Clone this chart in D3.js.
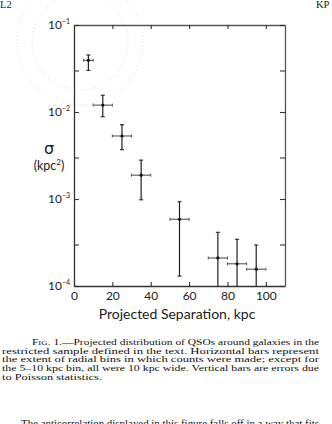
<!DOCTYPE html>
<html><head><meta charset="utf-8">
<script src="https://cdn.jsdelivr.net/npm/d3@7"></script>
<style>
html,body{margin:0;padding:0;background:#fff;}
svg{display:block;}
</style></head>
<body>
<svg id="c" width="332" height="424"></svg>
<script>
// ---- data ----
const binLo = [5, 10, 20, 30, 50, 70, 80, 90];
const binHi = [10, 20, 30, 40, 60, 80, 90, 100];
const sigmaVal = [0.0393, 0.0120, 0.0053, 0.00188, 0.000585, 0.00021, 0.00018, 0.000156];
const errHigh = [0.0452, 0.0156, 0.00715, 0.0028, 0.00093, 0.000414, 0.000344, 0.000296];
const errLow  = [0.0301, 0.00883, 0.00369, 0.00098, 0.00013, 0.0001, 0.0001, 0.0001];
const xTicks = [0, 20, 40, 60, 80, 100];
const yMajor = [1e-1, 1e-2, 1e-3, 1e-4];
const yMajorExp = ["\u22121", "\u22122", "\u22123", "\u22124"];
const yMinor = [3e-2, 3e-3, 3e-4];
const xTitle = "Projected Separation, kpc";
const captionLines = [
  "Projected distribution of QSOs around galaxies in the",
  "restricted sample defined in the text. Horizontal bars represent",
  "the extent of radial bins in which counts were made; except for",
  "the 5\u201310 kpc bin, all were 10 kpc wide. Vertical bars are errors due",
  "to Poisson statistics."
];

const svg = d3.select("#c");

// faint library stamp (scan artefact)
const stamp = svg.append("g").attr("fill", "none").attr("stroke", "#b9b9cc")
  .attr("stroke-width", 1).attr("stroke-dasharray", "1,2.5").attr("opacity", 0.5);
stamp.append("circle").attr("cx", 80).attr("cy", 42).attr("r", 48);
stamp.append("circle").attr("cx", 80).attr("cy", 42).attr("r", 63);

// page header
svg.append("text").attr("x", 0).attr("y", 8).attr("font-family", "Liberation Serif")
  .attr("font-size", 10.5).attr("fill", "#222").text("L2");
svg.append("text").attr("x", 316).attr("y", 8).attr("font-family", "Liberation Serif")
  .attr("font-size", 10.5).attr("fill", "#222").text("KP");

// ---- scales ----
const x = d3.scaleLinear().domain([0, 110]).range([74, 285]);
const y = d3.scaleLog().domain([1e-4, 1e-1]).range([286, 25]).clamp(true);

const axisColor = "#333";
const tickFont = "Lato";

// axes
const gB = svg.append("g").attr("transform", `translate(0,${y.range()[0]})`)
  .call(d3.axisBottom(x).tickValues(xTicks).tickSizeInner(-4).tickSizeOuter(0).tickPadding(5.5));
const gT = svg.append("g").attr("transform", `translate(0,${y.range()[1]})`)
  .call(d3.axisTop(x).tickValues(xTicks.slice(1)).tickSizeInner(-4).tickSizeOuter(0).tickFormat(""));
const yTickVals = yMajor.concat(yMinor);
const gL = svg.append("g").attr("transform", `translate(${x.range()[0]},0)`)
  .call(d3.axisLeft(y).tickValues(yTickVals).tickSizeInner(-5).tickSizeOuter(0).tickFormat(""));
const gR = svg.append("g").attr("transform", `translate(${x.range()[1]},0)`)
  .call(d3.axisRight(y).tickValues(yTickVals).tickSizeInner(-5).tickSizeOuter(0).tickFormat(""));

[gB, gT, gL, gR].forEach(g => {
  g.selectAll("path.domain").attr("stroke", axisColor).attr("stroke-width", 1.3);
  g.selectAll(".tick line").attr("stroke", axisColor).attr("stroke-width", 1.1);
});
gT.selectAll("path.domain").attr("stroke", "#555");
gR.selectAll("path.domain").attr("stroke", "#555");
gB.selectAll(".tick text").attr("font-family", tickFont).attr("font-size", 12)
  .attr("fill", "#222");

// y tick labels with exponents
const yl = svg.append("g").attr("font-family", tickFont).attr("fill", "#222");
yMajor.forEach((v, i) => {
  const t = yl.append("text").attr("x", 70).attr("y", y(v)).attr("dy", "0.35em")
    .attr("text-anchor", "end").attr("font-size", 12);
  t.append("tspan").text("10");
  t.append("tspan").attr("font-size", 7).attr("dy", -5).text(yMajorExp[i]);
});

// y axis title
svg.append("text").attr("x", 49).attr("y", 153.5).attr("text-anchor", "middle")
  .attr("font-family", "DejaVu Sans").attr("font-size", 16).attr("fill", "#222").text("\u03c3");
const kt = svg.append("text").attr("x", 49).attr("y", 170).attr("text-anchor", "middle")
  .attr("font-family", tickFont).attr("font-size", 12.5).attr("fill", "#222");
kt.append("tspan").text("(kpc");
kt.append("tspan").attr("font-size", 8).attr("dy", -5).text("2");
kt.append("tspan").attr("dy", 5).text(")");

// x axis title
svg.append("text").attr("x", 177).attr("y", 319).attr("text-anchor", "middle")
  .attr("font-family", tickFont).attr("font-size", 14).attr("fill", "#222").text(xTitle);

// ---- data marks ----
const idx = d3.range(sigmaVal.length);
const marks = svg.append("g");
// horizontal bars (bin extent)
marks.selectAll("line.h").data(idx).join("line").attr("class", "h")
  .attr("x1", i => x(binLo[i])).attr("x2", i => x(binHi[i]))
  .attr("y1", i => y(sigmaVal[i])).attr("y2", i => y(sigmaVal[i]))
  .attr("stroke", "#555").attr("stroke-width", 1.1);
marks.selectAll("line.hl").data(idx).join("line").attr("class", "hl")
  .attr("x1", i => x(binLo[i])).attr("x2", i => x(binLo[i]))
  .attr("y1", i => y(sigmaVal[i]) - 1.5).attr("y2", i => y(sigmaVal[i]) + 1.5)
  .attr("stroke", "#555").attr("stroke-width", 1);
marks.selectAll("line.hr").data(idx).join("line").attr("class", "hr")
  .attr("x1", i => x(binHi[i])).attr("x2", i => x(binHi[i]))
  .attr("y1", i => y(sigmaVal[i]) - 1.5).attr("y2", i => y(sigmaVal[i]) + 1.5)
  .attr("stroke", "#555").attr("stroke-width", 1);
// vertical error bars
const cx = i => x((binLo[i] + binHi[i]) / 2);
marks.selectAll("line.v").data(idx).join("line").attr("class", "v")
  .attr("x1", cx).attr("x2", cx)
  .attr("y1", i => y(errHigh[i])).attr("y2", i => y(errLow[i]))
  .attr("stroke", "#222").attr("stroke-width", 1.2);
marks.selectAll("line.ct").data(idx).join("line").attr("class", "ct")
  .attr("x1", i => cx(i) - 2).attr("x2", i => cx(i) + 2)
  .attr("y1", i => y(errHigh[i])).attr("y2", i => y(errHigh[i]))
  .attr("stroke", "#222").attr("stroke-width", 1.1);
marks.selectAll("line.cb").data(idx.filter(i => errLow[i] > 1e-4)).join("line").attr("class", "cb")
  .attr("x1", i => cx(i) - 2).attr("x2", i => cx(i) + 2)
  .attr("y1", i => y(errLow[i])).attr("y2", i => y(errLow[i]))
  .attr("stroke", "#222").attr("stroke-width", 1.1);
marks.selectAll("circle.p").data(idx).join("circle").attr("class", "p")
  .attr("cx", cx).attr("cy", i => y(sigmaVal[i])).attr("r", 1.6).attr("fill", "#111");

// ---- caption ----
const cap = svg.append("g").attr("font-family", "Liberation Serif").attr("font-size", 7.8)
  .attr("fill", "#111");
const capBase = [345, 353.7, 362.4, 371.1, 379.8];
const l1 = cap.append("text").attr("x", 32).attr("y", capBase[0])
  .attr("textLength", 287).attr("lengthAdjust", "spacingAndGlyphs");
l1.append("tspan").text("F");
l1.append("tspan").attr("font-size", 6).text("IG");
l1.append("tspan").text(". 1.\u2014" + captionLines[0]);
const capWidths = [317, 317, 317, 100];
captionLines.slice(1).forEach((s, k) => {
  cap.append("text").attr("x", 2).attr("y", capBase[k + 1]).text(s)
    .attr("textLength", capWidths[k]).attr("lengthAdjust", "spacingAndGlyphs");
});

// next paragraph (cut off at page bottom, as in the scan)
svg.append("text").attr("x", 21).attr("y", 427).attr("font-family", "Liberation Serif")
  .attr("font-size", 10.5).attr("fill", "#111").attr("textLength", 298).attr("lengthAdjust", "spacingAndGlyphs")
  .text("The anticorrelation displayed in this figure falls off in a way that fits");
</script>
</body></html>
